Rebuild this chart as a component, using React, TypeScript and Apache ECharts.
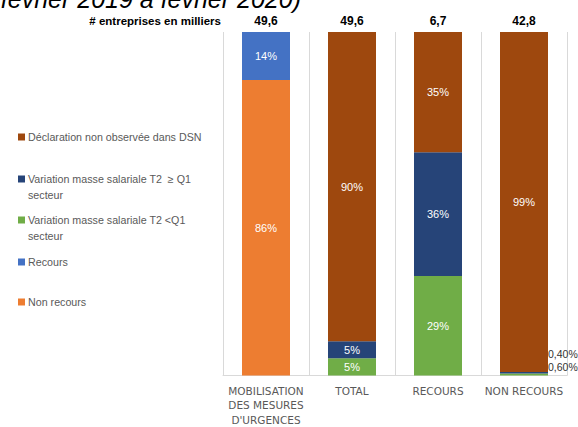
import React, { useEffect, useRef } from "react";
import * as echarts from "echarts";

const categories = ["MOBILISATION\nDES MESURES\nD'URGENCES", "TOTAL", "RECOURS", "NON RECOURS"];
const totals = ["49,6", "49,6", "6,7", "42,8"];
const nonRecours: (number | null)[] = [86, null, null, null];
const recours: (number | null)[] = [14, null, null, null];
const variationBasse: (number | null)[] = [null, 5, 29, 0.6];
const variationHaute: (number | null)[] = [null, 5, 36, 0.4];
const nonObservee: (number | null)[] = [null, 90, 35, 99];

const seriesNames = [
  "Non recours",
  "Recours",
  "Variation masse salariale T2 <Q1 secteur",
  "Variation masse salariale T2  ≥ Q1 secteur",
  "Déclaration non observée dans DSN",
];
const seriesColors = ["#ED7D31", "#4472C4", "#70AD47", "#264478", "#9E480E"];

const legendItems = [
  { lines: ["Déclaration non observée dans DSN"], color: "#9E480E", y: 137 },
  { lines: ["Variation masse salariale T2  ≥ Q1", "secteur"], color: "#264478", y: 179 },
  { lines: ["Variation masse salariale T2 <Q1", "secteur"], color: "#70AD47", y: 220 },
  { lines: ["Recours"], color: "#4472C4", y: 262 },
  { lines: ["Non recours"], color: "#ED7D31", y: 302 },
];

const fmt = (v: number) =>
  v < 1 ? v.toFixed(2).replace(".", ",") + "%" : String(v).replace(".", ",") + "%";

export default function App() {
  const ref = useRef<HTMLDivElement>(null);
  useEffect(() => {
    if (!ref.current) return;
    const chart = echarts.init(ref.current, null, { renderer: "svg" });
    const dataSets = [nonRecours, recours, variationBasse, variationHaute, nonObservee];
    const smallOffsets: Record<number, number> = { 2: -7, 3: -19 };
    const series = dataSets.map((arr, si) => ({
      name: seriesNames[si],
      type: "bar",
      stack: "s",
      barWidth: 48,
      itemStyle: { color: seriesColors[si] },
      label: {
        show: true,
        position: "inside",
        color: "#ffffff",
        fontSize: 11,
        fontFamily: "Liberation Sans",
        formatter: (p: any) => fmt(p.value),
      },
      data: arr.map((v) => {
        if (v === null) return "-";
        if (v < 1) {
          return {
            value: v,
            label: {
              position: "right",
              distance: 0,
              offset: [0, smallOffsets[si] ?? 0],
              color: "#333333",
              fontSize: 10.5,
            },
          };
        }
        return v;
      }),
    }));

    const graphic: any[] = [
      {
        type: "text",
        x: 301,
        y: 11,
        style: {
          text: "février 2019 à février 2020)",
          fontSize: 25,
          fontStyle: "italic",
          fontFamily: "Liberation Sans",
          fill: "#000000",
          textAlign: "right",
          textVerticalAlign: "bottom",
        },
      },
      {
        type: "text",
        x: 221,
        y: 21,
        style: {
          text: "# entreprises en milliers",
          fontSize: 11.5,
          fontWeight: "bold",
          fontFamily: "Liberation Sans",
          fill: "#000000",
          textAlign: "right",
          textVerticalAlign: "middle",
        },
      },
    ];
    legendItems.forEach((it) => {
      graphic.push({
        type: "rect",
        shape: { x: 18, y: it.y - 3.5, width: 7, height: 7 },
        style: { fill: it.color },
      });
      it.lines.forEach((ln, i) => {
        graphic.push({
          type: "text",
          x: 28,
          y: it.y + i * 16,
          style: {
            text: ln,
            fontSize: 10.7,
            fontFamily: "Liberation Sans",
            fill: "#595959",
            textAlign: "left",
            textVerticalAlign: "middle",
          },
        });
      });
    });

    chart.setOption({
      animation: false,
      grid: { left: 223, right: 11, top: 32, bottom: 47, containLabel: false },
      legend: { show: false },
      xAxis: [
        {
          type: "category",
          data: categories,
          position: "bottom",
          axisLine: { show: true, lineStyle: { color: "#D9D9D9", width: 1 } },
          axisTick: { show: false },
          splitLine: { show: true, lineStyle: { color: "#D9D9D9", width: 1 } },
          axisLabel: {
            color: "#595959",
            fontSize: 10.5,
            fontFamily: "DejaVu Sans",
            lineHeight: 14.5,
            margin: 8,
            interval: 0,
          },
        },
        {
          type: "category",
          data: totals,
          position: "top",
          axisLine: { show: false },
          axisTick: { show: false },
          splitLine: { show: false },
          axisLabel: {
            color: "#000000",
            fontSize: 12,
            fontWeight: "bold",
            fontFamily: "Liberation Sans",
            margin: 5,
            interval: 0,
          },
        },
      ],
      yAxis: { type: "value", min: 0, max: 100, show: false },
      series,
      graphic,
    });
    return () => chart.dispose();
  }, []);
  return (
    <div
      ref={ref}
      style={{ position: "absolute", left: 0, top: 0, width: 578, height: 427 }}
    />
  );
}
